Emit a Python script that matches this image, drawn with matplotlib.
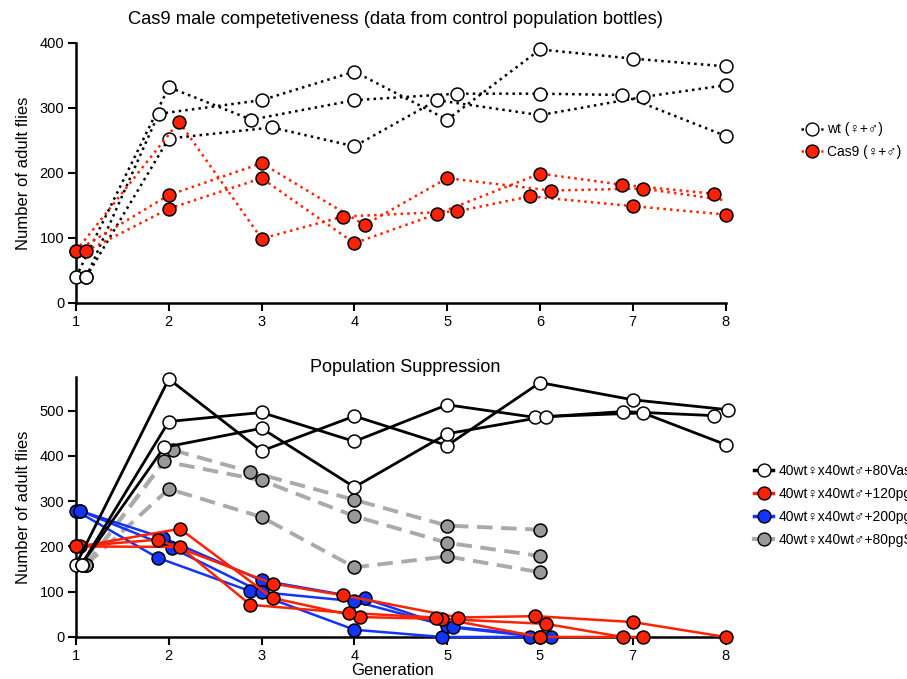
import matplotlib
matplotlib.use("Agg")
import matplotlib.pyplot as plt
from matplotlib.lines import Line2D

plt.rcParams['font.family'] = ['Liberation Sans', 'DejaVu Sans']

# --- top panel: control population bottles ---
wt_x = [[1, 2, 2.89, 4, 5.11, 6, 6.88, 8],
        [1.11, 1.89, 3, 4, 5, 6, 7, 8],
        [1.11, 2, 3.11, 4, 4.89, 6, 7.11, 8]]
wt_y = [[40, 332, 282, 312, 322, 322, 320, 257],
        [40, 291, 312, 356, 282, 390, 376, 364],
        [40, 253, 270, 241, 312, 289, 317, 335]]

cas9_x = [[1, 2, 3, 4.11, 5, 6.12, 7.11, 8],
          [1, 2.11, 3, 3.88, 5.11, 5.89, 7, 8],
          [1.11, 2, 3, 4, 4.89, 6, 6.88, 7.88]]
cas9_y = [[80, 166, 215, 120, 192, 173, 176, 158],
          [80, 279, 99, 133, 141, 164, 149, 136],
          [80, 145, 192, 92, 137, 199, 182, 168]]
cas9_nmark = [7, 8, 8]   # last point of first bottle has no marker

# --- bottom panel: population suppression ---
vas_x = [[1, 2, 3, 4, 5, 6, 7, 8.03],
         [1.06, 2, 3, 4, 5, 5.95, 6.89, 7.88],
         [1.06, 1.95, 3, 4, 5, 6.06, 7.11, 8]]
vas_y = [[160, 570, 411, 488, 423, 562, 524, 502],
         [160, 476, 496, 432, 513, 485, 498, 489],
         [160, 419, 461, 331, 449, 487, 495, 425]]

pg120_x = [[1, 1.88, 3.12, 3.88, 5.12, 5.95, 7, 8],
           [1.04, 2.12, 3.12, 4.06, 4.94, 6.06, 6.89],
           [1, 2.12, 2.88, 3.94, 4.88, 6, 7.11]]
pg120_y = [[200, 215, 118, 92, 43, 46, 33, 0],
           [200, 239, 86, 44, 40, 29, 0],
           [200, 199, 71, 53, 43, 0, 0]]

pg200_x = [[1, 1.88, 2.88, 4, 4.94, 5.89],
           [1.04, 1.94, 3, 4.11, 5, 6.12],
           [1.04, 2.03, 3, 4, 5.06, 6]]
pg200_y = [[279, 175, 101, 16, 0, 0],
           [279, 219, 125, 85, 24, 0],
           [279, 197, 99, 79, 21, 0]]

pg80_x = [[1.11, 2.04, 2.88, 4, 5, 6],
          [1.11, 1.95, 3, 4, 5, 6],
          [1.11, 2, 3, 4, 5, 6]]
pg80_y = [[160, 413, 365, 303, 246, 237],
          [160, 388, 346, 267, 208, 179],
          [160, 327, 265, 154, 178, 143]]

top_labels = ['wt (♀+♂)', 'Cas9 (♀+♂)']
bottom_labels = ['40wt♀x40wt♂+80Vas', '40wt♀x40wt♂+120pg',
                 '40wt♀x40wt♂+200pg', '40wt♀x40wt♂+80pgS']
gen_ticks = [1, 2, 3, 4, 5, 6, 7, 8]
bottom_ticklabels = ['1', '2', '3', '4', '5', '5', '7', '8']

RED = '#ff2200'
BLUE = '#1234ff'
GREY_LINE = '#aaaaaa'
GREY_FILL = '#999999'
MS = 9.3

fig = plt.figure(figsize=(9.07, 6.79), dpi=100)
ax1 = fig.add_axes([0.0838, 0.5538, 0.7162, 0.3829])
ax2 = fig.add_axes([0.0838, 0.0619, 0.7162, 0.3833])


def style(ax):
    for s in ['top', 'right']:
        ax.spines[s].set_visible(False)
    for s in ['left', 'bottom']:
        ax.spines[s].set_linewidth(1.8)
    ax.tick_params(width=1.5, length=5.5, labelsize=10.5, pad=3)
    ax.set_xticks(gen_ticks)
    ax.set_xlim(1, 8)


def draw(ax, xs, ys, ls, lw, lc, fc, z, nmark=None):
    for i, (x, y) in enumerate(zip(xs, ys)):
        n = len(x) if nmark is None else nmark[i]
        ax.plot(x, y, ls=ls, lw=lw, color=lc, zorder=z, clip_on=False)
        ax.plot(x[:n], y[:n], ls='none', marker='o', ms=MS, mfc=fc,
                mec='black', mew=1.1, zorder=z + 0.5, clip_on=False)


# top
draw(ax1, wt_x, wt_y, ':', 1.8, 'black', 'white', 3)
draw(ax1, cas9_x, cas9_y, ':', 1.8, RED, RED, 4, cas9_nmark)
style(ax1)
ax1.set_ylim(0, 400)
ax1.set_yticks([0, 100, 200, 300, 400])
ax1.set_ylabel('Number of adult flies', fontsize=12, labelpad=6)
fig.text(396 / 907, 1 - 20 / 679, 'Cas9 male competetiveness (data from control population bottles)',
         ha='center', va='center', fontsize=13.2)

h_top = [Line2D([], [], ls=':', lw=1.8, color='black', marker='o', ms=MS, mfc='white', mec='black'),
         Line2D([], [], ls=':', lw=1.8, color=RED, marker='o', ms=MS, mfc=RED, mec='black')]
fig.legend(h_top, top_labels, loc='center left', bbox_to_anchor=(0.877, 0.793),
           frameon=False, fontsize=10, handlelength=1.6, handletextpad=0.3,
           labelspacing=0.6, borderaxespad=0)

# bottom
draw(ax2, pg80_x, pg80_y, (0, (4, 2.2)), 2.8, GREY_LINE, GREY_FILL, 2)
draw(ax2, pg200_x, pg200_y, '-', 1.8, BLUE, BLUE, 3)
draw(ax2, pg120_x, pg120_y, '-', 1.8, RED, RED, 4)
draw(ax2, vas_x, vas_y, '-', 2.0, 'black', 'white', 5)
style(ax2)
ax2.set_ylim(0, 575)
ax2.set_yticks([0, 100, 200, 300, 400, 500])
ax2.set_xticklabels(bottom_ticklabels)
ax2.set_ylabel('Number of adult flies', fontsize=12, labelpad=6)
ax2.set_xlabel('Generation', fontsize=12, va='bottom')
ax2.xaxis.set_label_coords((393 - 76) / 650, -0.158)
fig.text(405 / 907, 1 - 367 / 679, 'Population Suppression', ha='center', va='center', fontsize=13)

h_bot = [Line2D([], [], ls='-', lw=2.5, color='black', marker='o', ms=MS, mfc='white', mec='black'),
         Line2D([], [], ls='-', lw=2.5, color=RED, marker='o', ms=MS, mfc=RED, mec='black'),
         Line2D([], [], ls='-', lw=2.5, color=BLUE, marker='o', ms=MS, mfc=BLUE, mec='black'),
         Line2D([], [], ls='-', lw=3.0, color=GREY_LINE, marker='o', ms=MS, mfc=GREY_FILL, mec='black')]
fig.legend(h_bot, bottom_labels, loc='center left', bbox_to_anchor=(0.825, 0.2555),
           frameon=False, fontsize=10, handlelength=1.4, handletextpad=0.4,
           labelspacing=0.65, borderaxespad=0)

fig.savefig('out.png', dpi=100)
